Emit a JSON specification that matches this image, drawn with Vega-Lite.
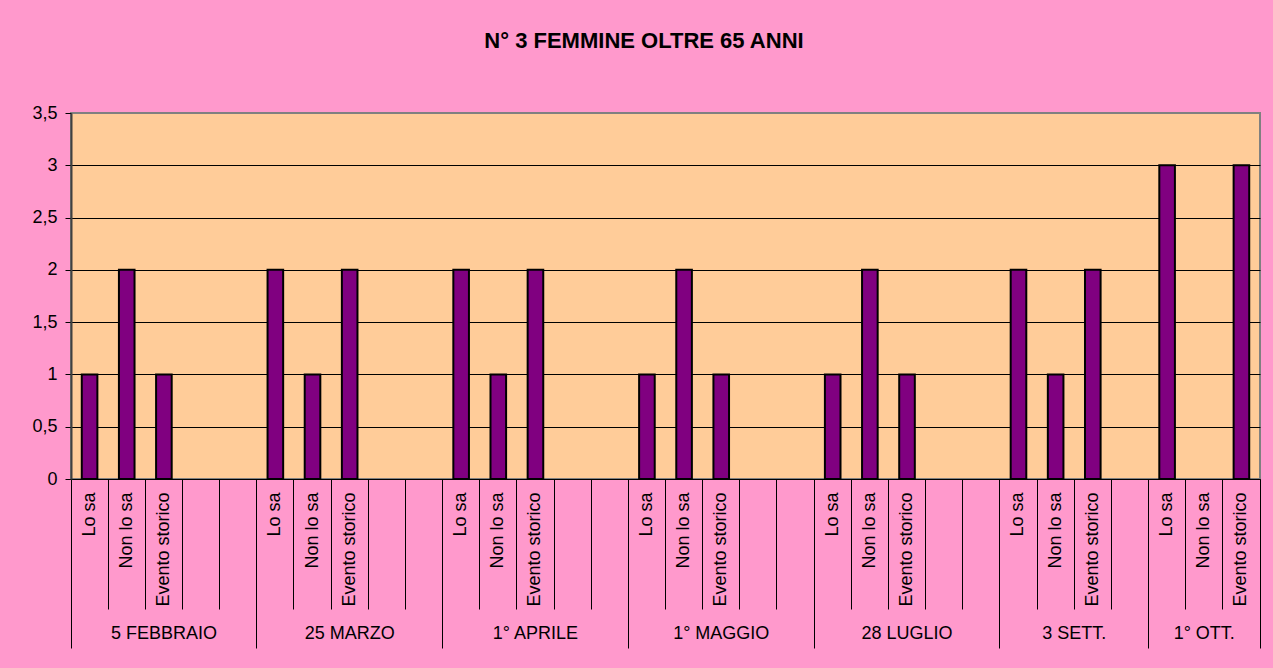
{
  "$schema": "https://vega.github.io/schema/vega-lite/v6.json",
  "width": 1189,
  "height": 366,
  "autosize": {"type": "none"},
  "padding": {"left": 71, "top": 113, "right": 13, "bottom": 189},
  "background": "#FF99CC",
  "title": {
    "text": "N° 3 FEMMINE OLTRE 65 ANNI",
    "fontSize": 22,
    "fontWeight": "bold",
    "font": "Liberation Sans",
    "color": "#000000",
    "anchor": "middle",
    "frame": "group",
    "dx": -21.5,
    "offset": 51
  },
  "data": {
    "values": [
      {"key": "01|5 FEBBRAIO|Lo sa", "value": 1},
      {"key": "02|5 FEBBRAIO|Non lo sa", "value": 2},
      {"key": "03|5 FEBBRAIO|Evento storico", "value": 1},
      {"key": "04|5 FEBBRAIO|", "value": null},
      {"key": "05|5 FEBBRAIO|", "value": null},
      {"key": "06|25 MARZO|Lo sa", "value": 2},
      {"key": "07|25 MARZO|Non lo sa", "value": 1},
      {"key": "08|25 MARZO|Evento storico", "value": 2},
      {"key": "09|25 MARZO|", "value": null},
      {"key": "10|25 MARZO|", "value": null},
      {"key": "11|1° APRILE|Lo sa", "value": 2},
      {"key": "12|1° APRILE|Non lo sa", "value": 1},
      {"key": "13|1° APRILE|Evento storico", "value": 2},
      {"key": "14|1° APRILE|", "value": null},
      {"key": "15|1° APRILE|", "value": null},
      {"key": "16|1° MAGGIO|Lo sa", "value": 1},
      {"key": "17|1° MAGGIO|Non lo sa", "value": 2},
      {"key": "18|1° MAGGIO|Evento storico", "value": 1},
      {"key": "19|1° MAGGIO|", "value": null},
      {"key": "20|1° MAGGIO|", "value": null},
      {"key": "21|28 LUGLIO|Lo sa", "value": 1},
      {"key": "22|28 LUGLIO|Non lo sa", "value": 2},
      {"key": "23|28 LUGLIO|Evento storico", "value": 1},
      {"key": "24|28 LUGLIO|", "value": null},
      {"key": "25|28 LUGLIO|", "value": null},
      {"key": "26|3 SETT.|Lo sa", "value": 2},
      {"key": "27|3 SETT.|Non lo sa", "value": 1},
      {"key": "28|3 SETT.|Evento storico", "value": 2},
      {"key": "29|3 SETT.|", "value": null},
      {"key": "30|1° OTT.|Lo sa", "value": 3},
      {"key": "31|1° OTT.|Non lo sa", "value": 0},
      {"key": "32|1° OTT.|Evento storico", "value": 3}
    ]
  },
  "layer": [
    {
      "mark": {"type": "bar", "width": {"band": 0.42}, "fill": "#800080", "stroke": "#000000", "strokeWidth": 2},
      "encoding": {
        "x": {
          "field": "key", "type": "nominal", "sort": null,
          "scale": {"paddingInner": 0, "paddingOuter": 0, "domain": ["01|5 FEBBRAIO|Lo sa","02|5 FEBBRAIO|Non lo sa","03|5 FEBBRAIO|Evento storico","04|5 FEBBRAIO|","05|5 FEBBRAIO|","06|25 MARZO|Lo sa","07|25 MARZO|Non lo sa","08|25 MARZO|Evento storico","09|25 MARZO|","10|25 MARZO|","11|1° APRILE|Lo sa","12|1° APRILE|Non lo sa","13|1° APRILE|Evento storico","14|1° APRILE|","15|1° APRILE|","16|1° MAGGIO|Lo sa","17|1° MAGGIO|Non lo sa","18|1° MAGGIO|Evento storico","19|1° MAGGIO|","20|1° MAGGIO|","21|28 LUGLIO|Lo sa","22|28 LUGLIO|Non lo sa","23|28 LUGLIO|Evento storico","24|28 LUGLIO|","25|28 LUGLIO|","26|3 SETT.|Lo sa","27|3 SETT.|Non lo sa","28|3 SETT.|Evento storico","29|3 SETT.|","30|1° OTT.|Lo sa","31|1° OTT.|Non lo sa","32|1° OTT.|Evento storico"]},
          "axis": {
            "orient": "bottom",
            "title": null, "grid": false,
            "labelExpr": "split(datum.value, '|')[2]",
            "labelAngle": -90, "labelAlign": "right", "labelBaseline": "middle",
            "labelPadding": 13, "ticks": false, "tickSize": 0,
            "domain": true, "domainColor": "#000000", "domainWidth": 1,
            "labelFontSize": 18, "labelFont": "Liberation Sans", "labelColor": "#000000",
            "labelOverlap": false, "labelBound": false, "labelLimit": 0
          }
        },
        "y": {
          "field": "value", "type": "quantitative",
          "scale": {"domain": [0, 3.5], "nice": false, "zero": true},
          "axis": {
            "title": null,
            "values": [0, 0.5, 1, 1.5, 2, 2.5, 3, 3.5],
            "labelExpr": "replace(toString(datum.value), '.', ',')",
            "grid": true, "gridColor": "#000000", "gridWidth": 1,
            "gridOpacity": {"condition": {"test": "datum.value >= 3.5", "value": 0}, "value": 1},
            "tickColor": "#000000", "tickSize": 6, "tickWidth": 1,
            "labelPadding": 8, "labelFontSize": 18, "labelFont": "Liberation Sans", "labelColor": "#000000",
            "domainColor": "#404040", "domainWidth": 2
          }
        },
        "strokeOpacity": {"condition": {"test": "datum.value == 0", "value": 0}, "value": 1}
      }
    },
    {
      "mark": {"type": "bar", "opacity": 0},
      "encoding": {
        "x": {
          "field": "key", "type": "nominal", "sort": null,
          "axis": {
            "orient": "bottom",
            "title": null, "grid": false, "labels": false, "domain": false,
            "ticks": true, "bandPosition": 1, "tickExtra": true,
            "tickColor": "#000000", "tickWidth": 1,
            "tickSize": {"condition": {"test": "!isValid(datum.value) || indexof(['05','10','15','20','25','29','32'], slice(datum.value, 0, 2)) >= 0", "value": 169}, "value": 130}
          }
        }
      }
    },
    {
      "mark": {"type": "bar", "opacity": 0},
      "encoding": {
        "x": {
          "field": "key", "type": "nominal", "sort": null,
          "axis": {
            "orient": "bottom",
            "title": null, "grid": false, "domain": false, "ticks": false, "tickSize": 0,
            "labelExpr": "indexof(['03','08','13','18','23','27','31'], slice(datum.value, 0, 2)) >= 0 ? split(datum.value, '|')[1] : ''",
            "labelAngle": 0, "labelAlign": "center", "labelBaseline": "top",
            "labelPadding": 145,
            "labelOffset": {"condition": {"test": "slice(datum.value, 0, 2) == '27'", "value": 18.6}, "value": 0},
            "labelFontSize": 18, "labelFont": "Liberation Sans", "labelColor": "#000000",
            "labelOverlap": false, "labelBound": false, "labelLimit": 0
          }
        }
      }
    }
  ],
  "resolve": {"axis": {"x": "independent"}},
  "config": {
    "font": "Liberation Sans",
    "view": {"fill": "#FFCC99", "stroke": "#808080", "strokeWidth": 2}
  }
}
